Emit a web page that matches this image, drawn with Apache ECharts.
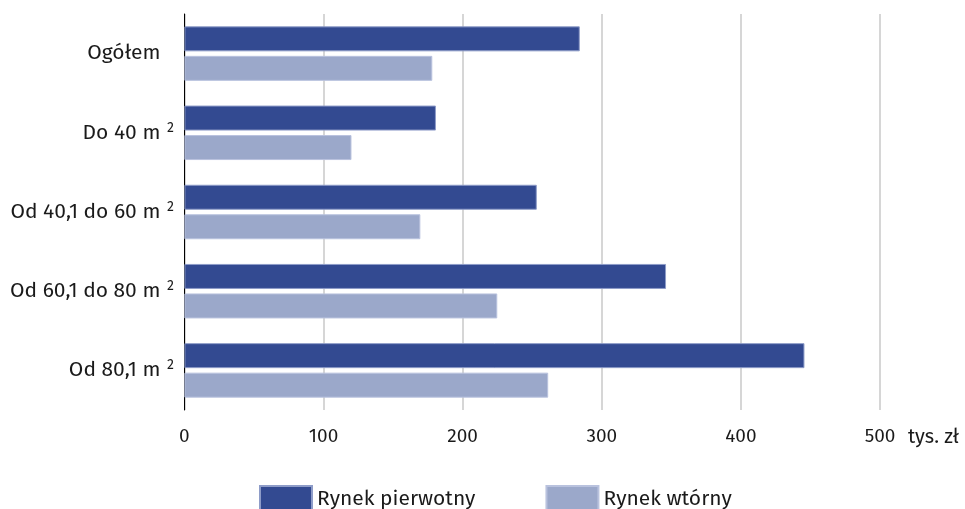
<!DOCTYPE html>
<html>
<head>
<meta charset="utf-8">
<script src="https://cdn.jsdelivr.net/npm/echarts@6/dist/echarts.min.js"></script>
<style>
html,body{margin:0;padding:0;background:#fff;}
#c{width:965px;height:509px;}
</style>
</head>
<body>
<div id="c"></div>
<script>
const categories = ['Ogółem', 'Do 40 m', 'Od 40,1 do 60 m', 'Od 60,1 do 80 m', 'Od 80,1 m'];
const superscripts = ['', '2', '2', '2', '2'];
const seriesNames = ['Rynek pierwotny', 'Rynek wtórny'];
const pierwotny = [284.2, 180.8, 253.3, 346.2, 445.7];
const wtorny = [178.2, 120.1, 169.6, 224.9, 261.5];
const xTicks = [0, 100, 200, 300, 400, 500];
const unitLabel = 'tys. zł';

const FONT = '"Fira Sans", Lato, "Noto Sans", sans-serif';
const chart = echarts.init(document.getElementById('c'), null, {renderer: 'canvas'});
const labelMap = {};
categories.forEach((c, i) => { labelMap[c] = superscripts[i]; });

chart.setOption({
  animation: false,
  backgroundColor: '#ffffff',
  textStyle: {fontFamily: FONT},
  grid: {left: 184.4, right: 85, top: 14, bottom: 99, containLabel: false},
  legend: {
    data: seriesNames,
    left: 254,
    top: 480,
    itemWidth: 52,
    itemHeight: 26,
    itemGap: 70,
    icon: 'rect',
    textStyle: {fontFamily: FONT, fontSize: 21, color: '#1a1a1a'}
  },
  xAxis: {
    type: 'value',
    min: xTicks[0],
    max: xTicks[xTicks.length - 1],
    interval: xTicks[1] - xTicks[0],
    name: unitLabel,
    nameLocation: 'end',
    nameGap: 28,
    nameTextStyle: {fontFamily: FONT, fontSize: 20, color: '#1a1a1a', verticalAlign: 'top', padding: [17, 0, 0, 0]},
    axisLine: {show: false},
    axisTick: {show: false},
    axisLabel: {fontFamily: FONT, fontSize: 19, color: '#1a1a1a', margin: 17},
    splitLine: {show: true, lineStyle: {color: '#c9c9c9', width: 1.5}}
  },
  yAxis: {
    type: 'category',
    data: categories,
    inverse: true,
    axisLine: {show: true, lineStyle: {color: '#000000', width: 1}},
    axisTick: {show: false},
    axisLabel: {
      margin: 8,
      formatter: function (v) { return '{a|' + v + '}{s|' + (labelMap[v] ? labelMap[v] : ' ') + '}'; },
      rich: {
        a: {fontFamily: FONT, fontSize: 21, color: '#1a1a1a', lineHeight: 24},
        s: {fontFamily: FONT, fontSize: 14, color: '#1a1a1a', lineHeight: 14, verticalAlign: 'top', width: 12, align: 'left', padding: [0, 0, 0, 4]}
      }
    }
  },
  series: [
    {
      name: seriesNames[0],
      type: 'bar',
      data: pierwotny,
      barWidth: 25,
      barGap: '18%',
      itemStyle: {color: '#334a91', borderColor: '#8e9cc8', borderWidth: 1}
    },
    {
      name: seriesNames[1],
      type: 'bar',
      data: wtorny,
      barWidth: 25,
      barGap: '18%',
      itemStyle: {color: '#9ba8ca', borderColor: '#b9c2de', borderWidth: 1}
    }
  ]
});
</script>
</body>
</html>
